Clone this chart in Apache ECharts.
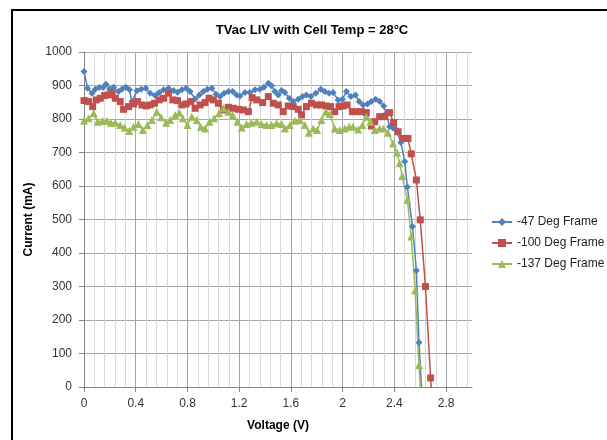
<!DOCTYPE html>
<html>
<head>
<meta charset="utf-8">
<script src="https://cdn.jsdelivr.net/npm/echarts@6/dist/echarts.min.js"></script>
<style>
  html, body { margin: 0; padding: 0; background: #fff; }
  #chart { width: 607px; height: 440px; }
</style>
</head>
<body>
<div id="chart"></div>
<script>
// [voltage (V), current (mA)]
const frame47 = [
  [0, 942], [0.028, 892], [0.062, 877], [0.087, 889], [0.118, 894], [0.147, 894], [0.17, 904],
  [0.198, 889], [0.229, 895], [0.267, 882], [0.293, 889], [0.324, 895], [0.352, 887], [0.37, 852],
  [0.409, 884], [0.442, 889], [0.478, 892], [0.512, 877], [0.55, 870], [0.581, 879], [0.615, 887],
  [0.653, 892], [0.692, 885], [0.723, 880], [0.756, 887], [0.79, 892], [0.82, 882], [0.859, 860],
  [0.892, 872], [0.923, 882], [0.954, 889], [0.988, 892], [1.021, 874], [1.052, 867], [1.083, 877],
  [1.116, 882], [1.15, 882], [1.18, 872], [1.206, 869], [1.245, 879], [1.283, 879], [1.322, 887],
  [1.36, 889], [1.391, 895], [1.425, 907], [1.45, 899], [1.476, 882], [1.502, 872], [1.528, 885],
  [1.553, 879], [1.587, 862], [1.618, 852], [1.656, 859], [1.69, 867], [1.72, 872], [1.754, 867],
  [1.792, 877], [1.831, 889], [1.862, 882], [1.895, 877], [1.926, 879], [1.965, 857], [1.998, 859],
  [2.029, 882], [2.063, 867], [2.099, 872], [2.127, 852], [2.158, 842], [2.191, 845], [2.222, 852],
  [2.255, 859], [2.286, 852], [2.317, 839], [2.338, 817], [2.363, 777], [2.39, 773], [2.41, 770],
  [2.45, 730], [2.48, 673], [2.5, 597], [2.54, 479], [2.57, 348], [2.59, 133], [2.615, -40]
];
const frame100 = [
  [0, 855], [0.036, 852], [0.067, 837], [0.095, 857], [0.126, 862], [0.159, 870], [0.19, 872],
  [0.216, 877], [0.242, 862], [0.28, 852], [0.306, 829], [0.345, 837], [0.383, 845], [0.414, 852],
  [0.448, 842], [0.481, 839], [0.512, 842], [0.545, 847], [0.581, 857], [0.615, 862], [0.653, 877],
  [0.687, 857], [0.723, 855], [0.756, 842], [0.79, 845], [0.826, 852], [0.859, 832], [0.898, 842],
  [0.936, 849], [0.967, 862], [1.0, 857], [1.039, 847], [1.078, 827], [1.116, 835], [1.155, 832],
  [1.193, 829], [1.232, 827], [1.271, 822], [1.3, 864], [1.335, 857], [1.381, 849], [1.425, 867],
  [1.463, 847], [1.502, 842], [1.54, 822], [1.579, 839], [1.618, 837], [1.656, 829], [1.682, 812],
  [1.72, 837], [1.759, 847], [1.798, 842], [1.836, 842], [1.87, 839], [1.906, 837], [1.939, 822],
  [1.972, 837], [2.003, 839], [2.034, 842], [2.075, 822], [2.111, 822], [2.145, 822], [2.183, 819],
  [2.222, 779], [2.248, 792], [2.286, 807], [2.325, 807], [2.363, 819], [2.394, 789], [2.428, 762],
  [2.466, 742], [2.505, 742], [2.53, 696], [2.57, 618], [2.6, 499], [2.64, 300], [2.68, 27], [2.69, -30]
];
const frame137 = [
  [0, 795], [0.036, 802], [0.075, 817], [0.105, 792], [0.144, 794], [0.177, 795], [0.208, 789],
  [0.242, 789], [0.28, 782], [0.314, 775], [0.35, 764], [0.383, 777], [0.422, 785], [0.455, 767],
  [0.491, 782], [0.525, 797], [0.563, 822], [0.597, 805], [0.635, 789], [0.666, 797], [0.705, 812],
  [0.738, 819], [0.764, 802], [0.8, 782], [0.833, 807], [0.872, 797], [0.903, 777], [0.936, 772],
  [0.97, 792], [1.006, 802], [1.044, 817], [1.078, 832], [1.116, 822], [1.15, 812], [1.186, 792],
  [1.219, 775], [1.257, 785], [1.296, 789], [1.335, 792], [1.373, 785], [1.412, 782], [1.45, 782],
  [1.489, 787], [1.528, 785], [1.553, 772], [1.592, 782], [1.63, 795], [1.669, 797], [1.708, 782],
  [1.738, 759], [1.772, 772], [1.803, 767], [1.836, 797], [1.87, 822], [1.9, 815], [1.939, 772],
  [1.978, 767], [2.016, 772], [2.05, 777], [2.08, 777], [2.12, 769], [2.153, 782], [2.183, 807],
  [2.214, 792], [2.248, 767], [2.286, 772], [2.317, 772], [2.35, 759], [2.389, 727], [2.42, 700],
  [2.44, 668], [2.46, 630], [2.5, 559], [2.53, 449], [2.56, 288], [2.59, 66], [2.605, -30]
];
const seriesNames = ['-47 Deg Frame', '-100 Deg Frame', '-137 Deg Frame'];
const seriesColors = ['#4f81bd', '#c0504d', '#9bbb59'];
const seriesSymbols = ['diamond', 'rect', 'triangle'];
const symbolSizes = [7, 7, 8];

const font = 'Liberation Sans';
const chart = echarts.init(document.getElementById('chart'));

const isMajor = v => Math.abs(v / 0.4 - Math.round(v / 0.4)) < 1e-6;

const option = {
  animation: false,
  backgroundColor: '#fff',
  title: {
    text: 'TVac LIV with Cell Temp = 28°C',
    left: 307, top: 19, textAlign: 'center',
    textStyle: { fontFamily: font, fontSize: 13, fontWeight: 'bold', color: '#000' }
  },
  graphic: [{
    type: 'rect', silent: true,
    shape: { x: 12, y: 10, width: 700, height: 500 },
    style: { fill: 'none', stroke: '#000', lineWidth: 2 }
  }],
  legend: {
    orient: 'vertical', left: 486, top: 211, itemGap: 9,
    itemWidth: 20, itemHeight: 10,
    data: seriesNames,
    textStyle: { fontFamily: font, fontSize: 12, color: '#222' }
  },
  grid: { left: 84, right: 135, top: 52, bottom: 53, containLabel: false },
  xAxis: [
    {
      // minor vertical gridlines
      type: 'value', min: 0, max: 3, interval: 0.08, z: 0, position: 'bottom',
      axisLine: { show: false }, axisTick: { show: false }, axisLabel: { show: false },
      splitLine: { show: true, showMinLine: false, showMaxLine: false, lineStyle: { color: '#d9d9d9', width: 1 } }
    },
    {
      type: 'value', min: 0, max: 3, interval: 0.4, z: 1, position: 'bottom',
      name: 'Voltage (V)', nameLocation: 'middle', nameGap: 33,
      nameTextStyle: { fontFamily: font, fontSize: 12, fontWeight: 'bold', color: '#000' },
      axisLine: { show: true, onZero: false, lineStyle: { color: '#868686' } },
      axisTick: { show: true, length: 5, lineStyle: { color: '#868686' } },
      axisLabel: {
        margin: 11, showMaxLabel: false,
        fontFamily: font, fontSize: 12, color: '#333',
        formatter: v => (isMajor(v) ? String(+v.toFixed(1)) : '')
      },
      splitLine: { show: true, showMinLine: false, showMaxLine: false, lineStyle: { color: '#a6a6a6', width: 1 } }
    }
  ],
  yAxis: {
    type: 'value', min: 0, max: 1000, interval: 100,
    name: 'Current (mA)', nameLocation: 'middle', nameGap: 44, nameRotate: 90,
    nameTextStyle: { fontFamily: font, fontSize: 12, fontWeight: 'bold', color: '#000' },
    axisLine: { show: true, lineStyle: { color: '#868686' } },
    axisTick: { show: true, length: 5, lineStyle: { color: '#868686' } },
    axisLabel: { margin: 12, fontFamily: font, fontSize: 12, color: '#333', formatter: v => String(v) },
    splitLine: { show: true, showMinLine: false, lineStyle: { color: '#a6a6a6', width: 1 } }
  },
  series: [frame47, frame100, frame137].map((d, i) => ({
    name: seriesNames[i],
    type: 'line',
    xAxisIndex: 1,
    data: d,
    clip: true,
    symbol: seriesSymbols[i],
    symbolSize: symbolSizes[i],
    showAllSymbol: true,
    color: seriesColors[i],
    lineStyle: { width: 1.5, color: seriesColors[i] },
    itemStyle: { color: seriesColors[i] }
  }))
};
chart.setOption(option);
</script>
</body>
</html>
